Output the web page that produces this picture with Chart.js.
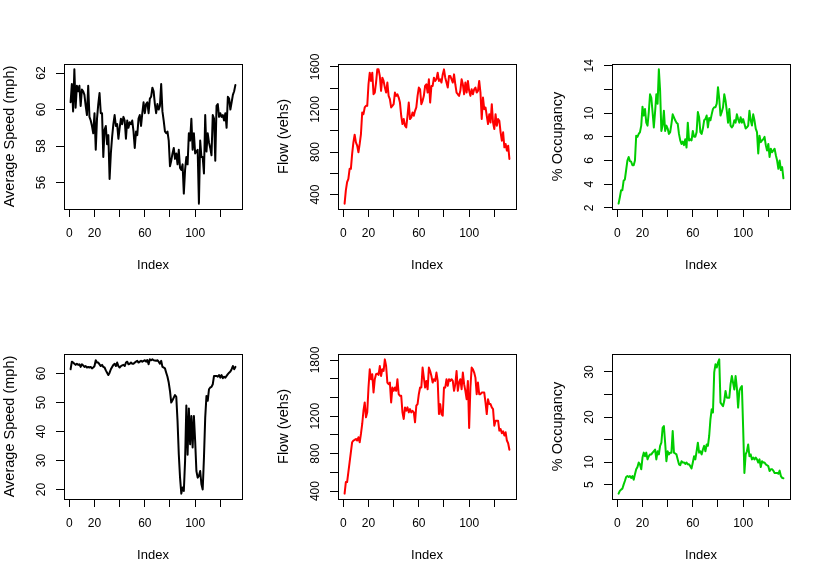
<!DOCTYPE html>
<html>
<head>
<meta charset="utf-8">
<script src="https://cdn.jsdelivr.net/npm/chart.js@4.4.1/dist/chart.umd.min.js"></script>
<style>
  html, body { margin: 0; padding: 0; background: #fff; }
  #grid { position: relative; width: 822px; height: 580px; }
  #grid canvas { position: absolute; }
</style>
</head>
<body>
<div id="grid">
  <canvas id="speedTop" width="274" height="290" style="left:0;top:0"></canvas>
  <canvas id="flowTop" width="274" height="290" style="left:274px;top:0"></canvas>
  <canvas id="occTop" width="274" height="290" style="left:548px;top:0"></canvas>
  <canvas id="speedBottom" width="274" height="290" style="left:0;top:290px"></canvas>
  <canvas id="flowBottom" width="274" height="290" style="left:274px;top:290px"></canvas>
  <canvas id="occBottom" width="274" height="290" style="left:548px;top:290px"></canvas>
</div>
<script>
// readings, one per index (1..132)
const speedTop = [60.4, 61.4, 59.9, 62.2, 60.1, 61.3, 61.0, 61.3, 60.2, 61.1,
  61.0, 60.8, 60.2, 59.7, 61.3, 59.6, 59.4, 59.1, 58.7, 59.8,
  57.8, 59.5, 60.3, 60.9, 59.8, 59.8, 57.4, 58.9, 59.1, 58.1,
  58.6, 56.2, 57.6, 58.5, 59.2, 59.7, 59.1, 59.2, 58.4, 59.0,
  59.5, 59.2, 59.6, 59.4, 58.4, 59.4, 59.0, 59.3, 59.2, 59.4,
  58.8, 57.9, 58.8, 58.6, 59.5, 59.7, 59.1, 59.8, 60.4, 59.8,
  60.3, 60.4, 59.8, 60.6, 60.7, 61.2, 61.0, 60.3, 59.8, 60.3,
  60.0, 60.2, 61.4, 59.9, 59.4, 58.8, 58.7, 58.8, 58.3, 56.9,
  57.2, 57.6, 57.9, 57.3, 57.6, 57.0, 57.8, 56.8, 56.7, 57.0,
  55.4, 56.7, 57.4, 57.0, 58.7, 58.3, 59.5, 57.8, 58.7, 57.6,
  57.7, 57.8, 54.85, 58.3, 57.4, 57.4, 56.5, 59.7, 57.7, 58.7,
  58.2, 57.9, 57.5, 59.7, 59.5, 57.2, 60.2, 60.3, 59.6, 59.8,
  59.6, 59.7, 59.4, 59.8, 59.0, 60.7, 60.6, 60.0, 60.4, 60.8,
  61.0, 61.35];

const flowTop = [315, 439, 517, 548, 642, 642, 782, 891, 963, 891,
  860, 798, 876, 969, 1172, 1156, 1219, 1234, 1234, 1437,
  1546, 1468, 1546, 1343, 1359, 1453, 1577, 1577, 1515, 1375,
  1499, 1468, 1406, 1359, 1453, 1328, 1297, 1219, 1234, 1250,
  1359, 1328, 1343, 1312, 1265, 1141, 1063, 1110, 1047, 1032,
  1141, 1265, 1110, 1125, 1172, 1141, 1187, 1219, 1328, 1406,
  1390, 1250, 1281, 1328, 1421, 1437, 1359, 1484, 1265, 1421,
  1421, 1499, 1468, 1484, 1546, 1468, 1484, 1453, 1530, 1577,
  1499, 1453, 1406, 1515, 1515, 1484, 1453, 1530, 1437, 1359,
  1343, 1328, 1375, 1484, 1437, 1343, 1453, 1359, 1468, 1375,
  1328, 1390, 1343, 1390, 1406, 1359, 1375, 1468, 1359, 1110,
  1312, 1203, 1219, 1141, 1063, 1156, 1078, 1250, 1078, 1016,
  1156, 1047, 1110, 1094, 985, 907, 985, 844, 876, 813,
  860, 735];

const occTop = [2.36, 2.9, 3.5, 3.5, 4.3, 4.4, 5.2, 6.0, 6.3, 5.95,
  5.9, 5.6, 5.6, 6.0, 8.1, 8.0, 8.25, 8.4, 8.95, 10.55,
  9.8, 10.35, 9.2, 8.95, 10.1, 11.6, 11.3, 10.1, 8.8, 10.1,
  11.6, 10.8, 13.7, 11.9, 8.5, 8.95, 10.2, 8.5, 8.95, 8.7,
  8.25, 8.4, 9.1, 9.9, 9.65, 9.4, 9.2, 9.1, 8.25, 7.7,
  7.4, 7.6, 7.3, 7.8, 7.1, 9.2, 7.7, 7.8, 7.7, 8.5,
  8.0, 8.0, 8.4, 10.1, 9.65, 8.4, 8.25, 8.7, 9.4, 9.5,
  9.8, 8.8, 9.6, 9.4, 9.9, 10.35, 10.5, 10.5, 10.8, 12.2,
  11.2, 9.8, 10.1, 10.5, 11.6, 11.05, 10.2, 9.2, 10.35, 8.95,
  8.8, 8.95, 9.4, 9.2, 9.9, 9.5, 9.2, 9.65, 9.2, 9.5,
  9.1, 8.7, 8.8, 8.95, 10.2, 9.4, 8.95, 9.9, 9.4, 8.7,
  8.4, 6.6, 8.1, 7.55, 7.7, 7.8, 8.0, 7.3, 6.85, 7.4,
  6.3, 7.0, 6.7, 6.85, 7.0, 6.45, 6.0, 5.3, 6.0, 5.2,
  5.45, 4.5];

const speedBottom = [61.5, 64.1, 63.8, 63.4, 63.0, 63.4, 63.0, 63.2, 62.3, 63.2,
  62.8, 62.3, 62.6, 62.1, 62.3, 62.1, 62.3, 61.8, 62.1, 62.6,
  64.6, 63.8, 63.8, 63.2, 62.6, 63.0, 62.3, 62.1, 61.1, 60.3,
  59.5, 60.3, 61.5, 62.3, 63.0, 63.4, 62.6, 63.8, 62.6, 62.1,
  62.6, 62.8, 63.0, 62.6, 63.8, 64.1, 63.2, 63.4, 63.8, 63.4,
  63.4, 63.8, 64.1, 64.4, 63.8, 64.1, 64.4, 64.1, 64.4, 64.6,
  64.1, 64.7, 63.2, 64.9, 64.6, 64.9, 64.6, 64.5, 64.4, 64.6,
  64.1, 63.4, 64.4, 62.3, 62.1, 61.8, 60.3, 58.9, 56.9, 54.0,
  50.0, 50.8, 51.7, 52.6, 52.0, 43.7, 32.2, 24.1, 18.6, 20.7,
  19.5, 29.9, 49.0, 32.0, 48.0, 35.6, 45.4, 34.5, 45.4, 36.8,
  26.4, 24.1, 24.7, 26.4, 21.8, 20.0, 31.0, 44.8, 52.3, 50.6,
  54.6, 55.2, 55.4, 56.3, 59.2, 59.2, 59.2, 58.9, 59.5, 58.6,
  59.5, 58.4, 58.9, 58.6, 59.2, 59.8, 60.3, 60.7, 61.5, 62.6,
  61.5, 62.3];

const flowBottom = [373, 497, 497, 603, 710, 816, 922, 940, 947, 957,
  940, 975, 922, 1011, 1117, 1258, 1347, 1188, 1241, 1506,
  1701, 1595, 1648, 1453, 1595, 1648, 1655, 1641, 1736, 1630,
  1701, 1683, 1807, 1736, 1559, 1542, 1559, 1347, 1506, 1471,
  1506, 1471, 1595, 1435, 1418, 1418, 1241, 1170, 1294, 1258,
  1294, 1241, 1276, 1241, 1258, 1241, 1135, 1312, 1329, 1435,
  1506, 1506, 1719, 1612, 1506, 1577, 1488, 1719, 1683, 1630,
  1559, 1595, 1577, 1666, 1577, 1223, 1329, 1223, 1205, 1506,
  1506, 1595, 1524, 1595, 1577, 1595, 1577, 1471, 1542, 1683,
  1471, 1559, 1595, 1488, 1666, 1542, 1471, 1382, 1577, 1074,
  1506, 1719, 1701, 1666, 1612, 1435, 1559, 1435, 1435, 1453,
  1453, 1453, 1347, 1223, 1382, 1329, 1329, 1294, 1276, 1099,
  1152, 1152, 1152, 1046, 1064, 1018, 1039, 993, 1028, 940,
  911, 841];

const occBottom = [3.0, 3.6, 3.9, 4.1, 5.0, 5.8, 6.7, 6.9, 6.7, 6.9,
  6.5, 6.9, 6.1, 7.3, 8.4, 8.9, 9.9, 9.5, 8.4, 11.0,
  12.1, 11.3, 12.1, 10.6, 11.3, 11.7, 11.7, 12.1, 12.4, 12.8,
  10.6, 12.4, 11.7, 13.6, 14.3, 17.6, 18.0, 14.3, 10.2, 12.4,
  11.7, 12.1, 12.1, 16.9, 12.1, 11.9, 11.7, 10.6, 9.5, 9.3,
  10.2, 9.9, 9.9, 9.6, 9.9, 9.5, 9.5, 9.1, 8.6, 9.9,
  11.3, 10.6, 12.4, 14.3, 12.1, 12.4, 11.7, 12.8, 13.6, 12.4,
  13.9, 13.6, 15.8, 19.5, 21.7, 21.0, 29.9, 31.7, 31.0, 32.1,
  32.8, 23.2, 22.8, 22.4, 23.6, 25.8, 24.3, 24.3, 24.3, 27.3,
  29.1, 27.6, 26.1, 29.1, 26.5, 22.1, 25.8, 26.5, 26.9, 17.6,
  7.6, 11.7, 12.4, 13.9, 11.3, 11.7, 10.6, 11.0, 10.6, 11.0,
  10.6, 9.9, 10.6, 8.9, 10.2, 9.9, 9.9, 9.5, 9.3, 9.1,
  8.0, 8.4, 8.4, 8.1, 7.6, 7.6, 7.6, 7.4, 8.1, 6.9,
  6.5, 6.4];

// ticks (R drops labels that would overlap)
const xTicks = [0, 20, 40, 60, 80, 100, 120];
const xLabels = [0, 20, 60, 100];
const speedTopTicks = [56, 58, 60, 62];
const speedTopLabels = [56, 58, 60, 62];
const flowTopTicks = [400, 600, 800, 1000, 1200, 1400, 1600];
const flowTopLabels = [400, 800, 1200, 1600];
const occTopTicks = [2, 4, 6, 8, 10, 12, 14];
const occTopLabels = [2, 4, 6, 8, 10, 14];
const speedBottomTicks = [20, 30, 40, 50, 60];
const speedBottomLabels = [20, 30, 40, 50, 60];
const flowBottomTicks = [400, 600, 800, 1000, 1200, 1400, 1600, 1800];
const flowBottomLabels = [400, 800, 1200, 1800];
const occBottomTicks = [5, 10, 15, 20, 25, 30];
const occBottomLabels = [5, 10, 20, 30];

const family = '"Liberation Sans", Arial, Helvetica, sans-serif';
const tickFont = { family: family, size: 12 };
const xTitleFont = { family: family, size: 13 };
const yTitleFont = { family: family, size: 14.5 };
const measure = document.createElement('canvas').getContext('2d');
measure.font = '12px "Liberation Sans"';

// R pads the data range by 4% each side
function rRange(lo, hi) {
  const pad = (hi - lo) * 0.04;
  return [lo - pad, hi + pad];
}

const plotBox = {
  id: 'plotBox',
  afterDatasetsDraw(chart) {
    const { ctx, chartArea: a } = chart;
    ctx.save();
    ctx.strokeStyle = '#000';
    ctx.lineWidth = 1;
    ctx.strokeRect(Math.round(a.left) + 0.5, Math.round(a.top) + 0.5,
      Math.round(a.right - a.left), Math.round(a.bottom - a.top));
    ctx.restore();
  }
};

function panel(id, values, color, yTitle, yTicks, yLabels) {
  const n = values.length;
  const [xmin, xmax] = rRange(1, n);
  const [ymin, ymax] = rRange(Math.min(...values), Math.max(...values));
  const widest = Math.max(...yLabels.map(v => measure.measureText(String(v)).width));

  new Chart(document.getElementById(id), {
    type: 'line',
    data: {
      datasets: [{
        data: values.map((v, i) => ({ x: i + 1, y: v })),
        borderColor: color,
        borderWidth: 2,
        pointRadius: 0,
        tension: 0,
        fill: false,
        borderJoinStyle: 'round',
        borderCapStyle: 'round'
      }]
    },
    options: {
      responsive: false,
      animation: false,
      devicePixelRatio: 1,
      layout: { padding: { top: 64, right: 32, left: 0, bottom: 0 } },
      plugins: { legend: { display: false }, tooltip: { enabled: false } },
      scales: {
        x: {
          type: 'linear',
          min: xmin,
          max: xmax,
          afterBuildTicks: s => { s.ticks = xTicks.map(v => ({ value: v })); },
          afterFit: s => { s.height = 81; },
          border: { display: false },
          grid: { drawOnChartArea: false, tickLength: 8, tickColor: '#000' },
          ticks: {
            color: '#000', font: tickFont, padding: 9, maxRotation: 0, autoSkip: false,
            callback: v => xLabels.includes(v) ? String(v) : ''
          },
          title: { display: true, text: 'Index', color: '#000', font: xTitleFont, padding: { top: 0, bottom: 17 } }
        },
        y: {
          type: 'linear',
          min: ymin,
          max: ymax,
          afterBuildTicks: s => { s.ticks = yTicks.map(v => ({ value: v })); },
          afterFit: s => { s.width = 64; },
          border: { display: false },
          grid: { drawOnChartArea: false, tickLength: 8, tickColor: '#000' },
          ticks: {
            color: '#000', font: tickFont, minRotation: 90, maxRotation: 90, autoSkip: false,
            crossAlign: 'center', padding: 14 - widest / 2,
            callback: v => yLabels.includes(v) ? String(v) : ''
          },
          title: { display: true, text: yTitle, color: '#000', font: yTitleFont, padding: { top: 1.5, bottom: 0 } }
        }
      }
    },
    plugins: [plotBox]
  });
}

panel('speedTop', speedTop, '#000000', 'Average Speed (mph)', speedTopTicks, speedTopLabels);
panel('flowTop', flowTop, '#FF0000', 'Flow (vehs)', flowTopTicks, flowTopLabels);
panel('occTop', occTop, '#00CD00', '% Occupancy', occTopTicks, occTopLabels);
panel('speedBottom', speedBottom, '#000000', 'Average Speed (mph)', speedBottomTicks, speedBottomLabels);
panel('flowBottom', flowBottom, '#FF0000', 'Flow (vehs)', flowBottomTicks, flowBottomLabels);
panel('occBottom', occBottom, '#00CD00', '% Occupancy', occBottomTicks, occBottomLabels);
</script>
</body>
</html>
